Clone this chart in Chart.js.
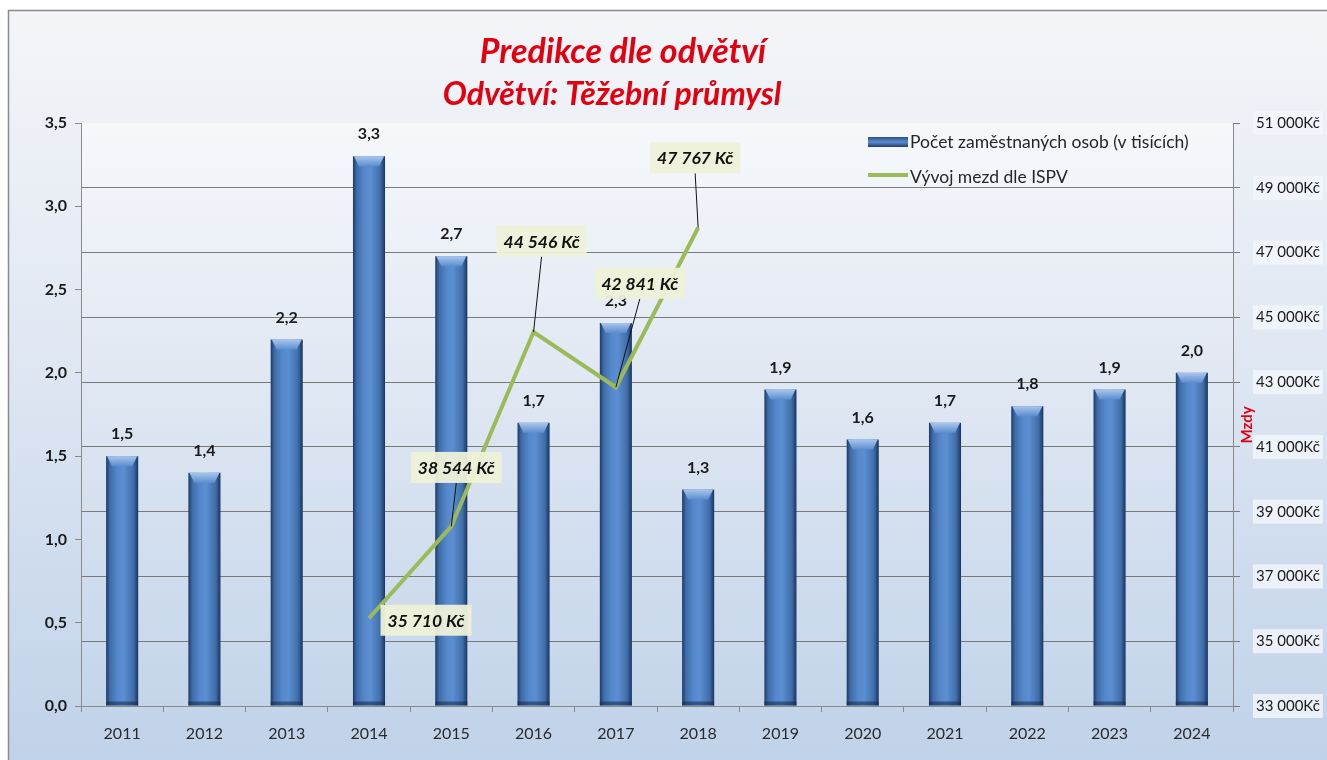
<!DOCTYPE html>
<html><head><meta charset="utf-8">
<script src="https://cdn.jsdelivr.net/npm/chart.js@4.4.1/dist/chart.umd.min.js"></script>
<style>html,body{margin:0;padding:0;background:#fff;}canvas{display:block}</style>
</head><body>
<canvas id="c" width="1327" height="760"></canvas>
<script>
// ---- data ----
const categories = ['2011','2012','2013','2014','2015','2016','2017','2018','2019','2020','2021','2022','2023','2024'];
const employees = [1.5, 1.4, 2.2, 3.3, 2.7, 1.7, 2.3, 1.3, 1.9, 1.6, 1.7, 1.8, 1.9, 2.0];
const wages = [null, null, null, 35710, 38544, 44546, 42841, 47767, null, null, null, null, null, null];
const leftAxis = {min: 0, max: 3.5, step: 0.5};
const rightAxis = {min: 33000, max: 51000, step: 2000};
const titleLines = ['Predikce dle odvětví', 'Odvětví: Těžební průmysl'];
const seriesNames = ['Počet zaměstnaných osob (v tisících)', 'Vývoj mezd dle ISPV'];
const rightAxisTitle = 'Mzdy';

// ---- label placement (offsets from point, px) ----
const wageLabelOffsets = {3: [57, 2, false], 4: [5, -59, true], 5: [8, -91, true], 6: [24, -104, true], 7: [-3, -70, true]};

const FONT = 'Lato, "Open Sans", sans-serif';
const fmtDec = v => v.toFixed(1).replace('.', ',');
const fmtThousands = v => String(Math.round(v)).replace(/\B(?=(\d{3})+(?!\d))/g, ' ');

function barGradient(c, x0, x1) {
  const g = c.createLinearGradient(x0, 0, x1, 0);
  g.addColorStop(0, '#1d3a66');
  g.addColorStop(0.12, '#3f6ca8');
  g.addColorStop(0.35, '#5488cb');
  g.addColorStop(0.55, '#5b8fd2');
  g.addColorStop(0.85, '#406ea9');
  g.addColorStop(1, '#1a3460');
  return g;
}

const decor = {
  id: 'decor',
  beforeDraw(chart) {
    const c = chart.ctx, ca = chart.chartArea, W = chart.width, H = chart.height;
    c.save();
    c.fillStyle = '#ffffff'; c.fillRect(0, 0, W, H);
    let g = c.createLinearGradient(0, 10, 0, H);
    g.addColorStop(0, '#f3f5f8'); g.addColorStop(0.35, '#e5ebf4'); g.addColorStop(1, '#c0d2e9');
    c.fillStyle = g; c.fillRect(8, 10, W - 8, H - 10);
    g = c.createLinearGradient(0, ca.top, 0, ca.bottom);
    g.addColorStop(0, '#f6f8fb'); g.addColorStop(0.4, '#e2e9f3'); g.addColorStop(1, '#c4d5ea');
    c.fillStyle = g; c.fillRect(ca.left, ca.top, ca.right - ca.left, ca.bottom - ca.top);
    c.strokeStyle = '#8a8a8a'; c.lineWidth = 1.5;
    c.beginPath(); c.moveTo(8.5, H); c.lineTo(8.5, 10.5); c.lineTo(W, 10.5); c.stroke();
    // titles
    c.fillStyle = '#e3000f'; c.textAlign = 'center'; c.textBaseline = 'alphabetic';
    c.font = 'italic bold 34px ' + FONT;
    c.fillText(titleLines[0], 623, 63);
    c.font = 'italic bold 32px ' + FONT;
    c.fillText(titleLines[1], 612, 105);
    // legend
    const lx = 868;
    const vg = c.createLinearGradient(0, 137, 0, 147);
    vg.addColorStop(0, '#2c5086'); vg.addColorStop(0.5, '#5a8ccd'); vg.addColorStop(1, '#203e6c');
    c.fillStyle = vg; c.fillRect(lx, 137, 40, 10);
    c.strokeStyle = '#9bbb59'; c.lineWidth = 4;
    c.beginPath(); c.moveTo(lx, 175); c.lineTo(lx + 40, 175); c.stroke();
    c.fillStyle = '#262626'; c.textAlign = 'left'; c.textBaseline = 'middle';
    c.font = '17.5px ' + FONT;
    c.fillText(seriesNames[0], lx + 42, 142);
    c.fillText(seriesNames[1], lx + 42, 177);
    // right axis title
    c.save();
    c.translate(1247, 425); c.rotate(-Math.PI / 2);
    c.fillStyle = '#e3000f'; c.font = 'bold 15px ' + FONT; c.textAlign = 'center'; c.textBaseline = 'middle';
    c.fillText(rightAxisTitle, 0, 0);
    c.restore();
    c.restore();
  },
  afterDatasetDraw(chart, args) {
    if (args.index !== 0) return;
    const c = chart.ctx;
    c.save();
    args.meta.data.forEach((el, i) => {
      const p = el.getProps(['x', 'y', 'base', 'width'], true);
      const l = p.x - p.width / 2, r = p.x + p.width / 2;
      // top bevel
      const g = c.createLinearGradient(0, p.y, 0, p.y + 10);
      g.addColorStop(0, '#a9c6ec'); g.addColorStop(1, '#5b8dcf');
      c.fillStyle = g;
      c.beginPath(); c.moveTo(l + 1, p.y); c.lineTo(r - 1, p.y); c.lineTo(r - 6, p.y + 10); c.lineTo(l + 6, p.y + 10); c.closePath(); c.fill();
      // bottom edge
      c.fillStyle = 'rgba(20,40,75,0.55)';
      c.fillRect(l, p.base - 4, p.width, 4);
      // value label
      c.fillStyle = '#1a1a1a'; c.font = 'bold 16px ' + FONT; c.textAlign = 'center'; c.textBaseline = 'middle';
      c.fillText(fmtDec(employees[i]), p.x, p.y - 22);
    });
    c.restore();
  },
  afterDatasetsDraw(chart) {
    const c = chart.ctx, meta = chart.getDatasetMeta(1);
    c.save();
    c.font = 'italic bold 17.5px ' + FONT; c.textAlign = 'center'; c.textBaseline = 'middle';
    meta.data.forEach((el, i) => {
      if (wages[i] == null) return;
      const o = wageLabelOffsets[i];
      const lx = el.x + o[0], ly = el.y + o[1];
      const txt = fmtThousands(wages[i]) + ' Kč';
      const w = c.measureText(txt).width + 14, h = 31;
      if (o[2]) {
        c.strokeStyle = '#111'; c.lineWidth = 1;
        c.beginPath(); c.moveTo(lx, ly + h / 2); c.lineTo(el.x, el.y); c.stroke();
      }
      c.fillStyle = 'rgba(238,241,216,0.95)';
      c.fillRect(lx - w / 2, ly - h / 2, w, h);
      c.fillStyle = '#111';
      c.fillText(txt, lx, ly + 1);
    });
    c.restore();
  }
};

new Chart(document.getElementById('c'), {
  data: {
    labels: categories,
    datasets: [
      {
        type: 'bar', label: seriesNames[0], data: employees, yAxisID: 'y', order: 2,
        categoryPercentage: 1, barPercentage: 0.39,
        backgroundColor: (ctx) => {
          const chart = ctx.chart, xs = chart.scales.x;
          if (ctx.type !== 'data' || !xs || !chart.chartArea) return '#4f81bd';
          const cx = xs.getPixelForValue(ctx.dataIndex);
          const w = (xs.width / categories.length) * 0.39;
          return barGradient(chart.ctx, cx - w / 2, cx + w / 2);
        },
        borderWidth: 0
      },
      {
        type: 'line', label: seriesNames[1], data: wages, yAxisID: 'y1', order: 1,
        borderColor: '#9bbb59', borderWidth: 4, pointRadius: 0, tension: 0, spanGaps: false,
        borderCapStyle: 'butt', borderJoinStyle: 'miter'
      }
    ]
  },
  options: {
    responsive: false, animation: false, devicePixelRatio: 1,
    layout: {padding: {top: 123, left: 0, right: 0, bottom: 0}},
    plugins: {legend: {display: false}, title: {display: false}, tooltip: {enabled: false}},
    scales: {
      x: {
        afterFit: s => { s.height = 54; },
        grid: {offset: true, drawOnChartArea: false, tickLength: 6, color: '#8a8a8a'},
        border: {color: '#8a8a8a'},
        ticks: {color: '#2a2a2a', font: {family: FONT, size: 16}, padding: 12, maxRotation: 0}
      },
      y: {
        position: 'left', min: leftAxis.min, max: leftAxis.max,
        afterFit: s => { s.width = 81; },
        ticks: {stepSize: leftAxis.step, color: '#1a1a1a', font: {family: FONT, size: 16, weight: 'bold'}, padding: 8, callback: v => fmtDec(v)},
        grid: {drawOnChartArea: false, tickLength: 6, color: '#8a8a8a'},
        border: {color: '#8a8a8a'}
      },
      y1: {
        position: 'right', min: rightAxis.min, max: rightAxis.max,
        afterFit: s => { s.width = 94; },
        ticks: {
          stepSize: rightAxis.step, color: '#1a1a1a', font: {family: FONT, size: 15}, padding: 16,
          callback: v => fmtThousands(v) + 'Kč',
          showLabelBackdrop: true, backdropColor: 'rgba(242,246,251,0.85)', backdropPadding: {x: 3, y: 3}
        },
        grid: {
          drawOnChartArea: true, tickLength: 7,
          color: (ctx) => (ctx.tick && ctx.tick.value === rightAxis.max) ? 'rgba(0,0,0,0)' : '#7a7a7a',
          tickColor: '#7a7a7a'
        },
        border: {color: '#8a8a8a'}
      }
    }
  },
  plugins: [decor]
});
</script>
</body></html>
